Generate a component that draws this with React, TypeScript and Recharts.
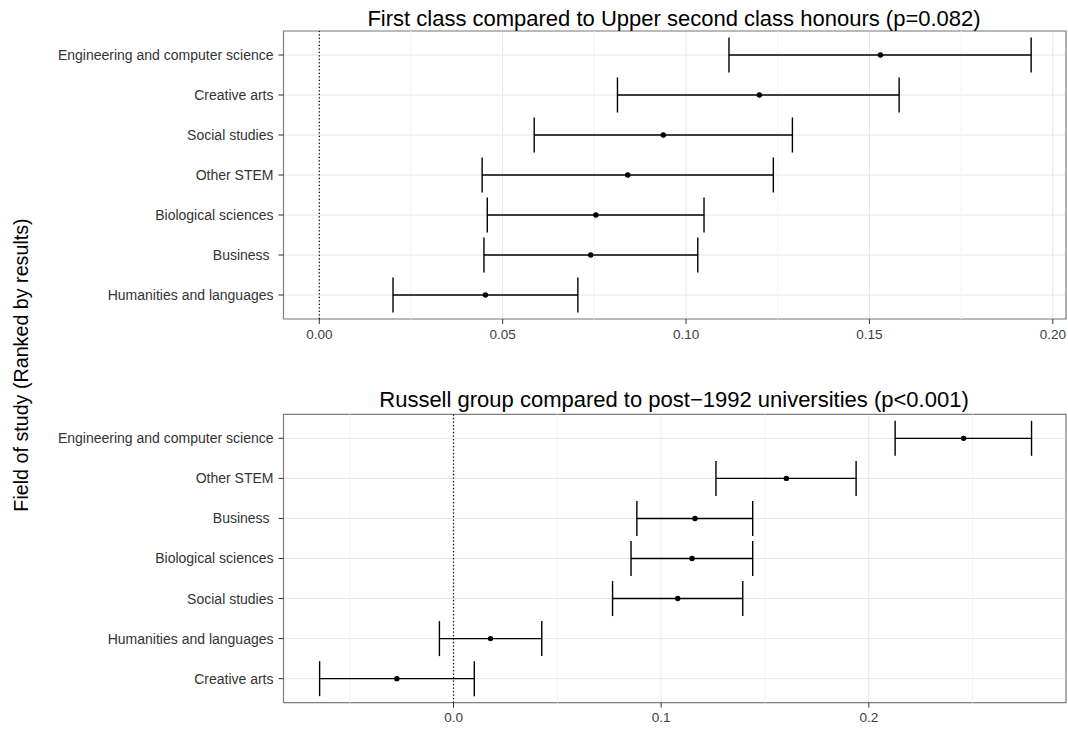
import React from 'react';
import {
  ScatterChart,
  Scatter,
  XAxis,
  YAxis,
  CartesianGrid,
  ErrorBar,
  ReferenceLine,
  ReferenceArea,
} from 'recharts';

// Panel 1: First class vs Upper second class honours
const fieldsTop = [
  'Engineering and computer science',
  'Creative arts',
  'Social studies',
  'Other STEM',
  'Biological sciences',
  'Business\u00a0',
  'Humanities and languages',
];
const estTop = [0.153, 0.12, 0.0938, 0.0841, 0.0754, 0.074, 0.0453];
const lowTop = [0.1117, 0.0813, 0.0586, 0.0444, 0.0458, 0.0449, 0.0201];
const highTop = [0.1941, 0.1581, 0.129, 0.1238, 0.1049, 0.1032, 0.0705];
const ticksTop = [0, 0.05, 0.1, 0.15, 0.2];
const minorTop = [0.025, 0.075, 0.125, 0.175];
const domainTop: [number, number] = [-0.00976, 0.2036];

// Panel 2: Russell group vs post-1992 universities
const fieldsBottom = [
  'Engineering and computer science',
  'Other STEM',
  'Business\u00a0',
  'Biological sciences',
  'Social studies',
  'Humanities and languages',
  'Creative arts',
];
const estBottom = [0.2457, 0.1603, 0.1163, 0.1149, 0.108, 0.0178, -0.0273];
const lowBottom = [0.2127, 0.1264, 0.0883, 0.0855, 0.0766, -0.0068, -0.0645];
const highBottom = [0.2784, 0.1939, 0.1441, 0.1441, 0.1393, 0.0425, 0.01];
const ticksBottom = [0, 0.1, 0.2];
const minorBottom = [-0.05, 0.05, 0.15, 0.25];
const domainBottom: [number, number] = [-0.0819, 0.295];

const titleTop = 'First class compared to Upper second class honours (p=0.082)';
const titleBottom = 'Russell group compared to post\u22121992 universities (p<0.001)';
const yTitle = 'Field of study (Ranked by results)';

const FONT = '"Liberation Sans", Arial, Helvetica, sans-serif';
const positions = [0, 1, 2, 3, 4, 5, 6];

type Row = { pos: number; est: number; lo: number; hi: number };

const buildRows = (est: number[], lo: number[], hi: number[]): Row[] =>
  est.map((e, i) => ({ pos: i, est: e, lo: lo[i], hi: hi[i] }));

const Dot = (props: any) => (
  <circle cx={props.cx} cy={props.cy} r={2.7} fill="#000" />
);

type PanelProps = {
  rows: Row[];
  labels: string[];
  ticks: number[];
  minor: number[];
  domain: [number, number];
  digits: number;
  height: number;
  top: number;
  marginTop: number;
  axisHeight: number;
  marginBottom: number;
};

const Panel = ({
  rows,
  labels,
  ticks,
  minor,
  domain,
  digits,
  height,
  top,
  marginTop,
  axisHeight,
  marginBottom,
}: PanelProps) => (
  <div style={{ position: 'absolute', left: 0, top }}>
    <ScatterChart
      width={1068}
      height={height}
      margin={{ top: marginTop, right: 2, bottom: marginBottom, left: 0 }}
    >
      {minor.map((m) => (
        <ReferenceLine key={m} x={m} stroke="#f3f3f3" strokeWidth={1} />
      ))}
      <CartesianGrid stroke="#e6e6e6" strokeWidth={1} />
      <XAxis
        type="number"
        dataKey="est"
        domain={domain}
        ticks={ticks}
        allowDataOverflow
        height={axisHeight}
        axisLine={false}
        tickSize={5}
        tickMargin={5}
        tickLine={{ stroke: '#333333' }}
        tick={{ fill: '#404040', fontSize: 13.5, fontFamily: FONT }}
        tickFormatter={(v: number) => v.toFixed(digits)}
      />
      <YAxis
        type="number"
        dataKey="pos"
        domain={[-0.6, 6.6]}
        ticks={positions}
        reversed
        allowDataOverflow
        width={283.5}
        axisLine={false}
        tickSize={5}
        tickMargin={5}
        tickLine={{ stroke: '#333333' }}
        tick={{ fill: '#333333', fontSize: 14, fontFamily: FONT }}
        tickFormatter={(v: number) => labels[v]}
        interval={0}
      />
      <ReferenceLine
        x={0}
        stroke="#111"
        strokeWidth={1.3}
        strokeDasharray="1.3 2.2"
      />
      <ReferenceArea
        x1={domain[0]}
        x2={domain[1]}
        y1={-0.6}
        y2={6.6}
        fill="none"
        fillOpacity={0}
        stroke="#808080"
        strokeWidth={1.2}
        ifOverflow="visible"
      />
      <Scatter data={rows} shape={Dot} isAnimationActive={false}>
        <ErrorBar
          dataKey={(d: Row) => [d.est - d.lo, d.hi - d.est]}
          direction="x"
          width={17.5}
          stroke="#000"
          strokeWidth={1.4}
          isAnimationActive={false}
        />
      </Scatter>
    </ScatterChart>
  </div>
);

export default function App() {
  const rowsTop = buildRows(estTop, lowTop, highTop);
  const rowsBottom = buildRows(estBottom, lowBottom, highBottom);
  return (
    <div
      style={{
        position: 'absolute',
        left: 0,
        top: 0,
        width: 1068,
        height: 729,
        background: '#fff',
        overflow: 'hidden',
      }}
    >
      <Panel
        rows={rowsTop}
        labels={fieldsTop}
        ticks={ticksTop}
        minor={minorTop}
        domain={domainTop}
        digits={2}
        height={360}
        top={0}
        marginTop={31}
        axisHeight={30}
        marginBottom={11}
      />
      <Panel
        rows={rowsBottom}
        labels={fieldsBottom}
        ticks={ticksBottom}
        minor={minorBottom}
        domain={domainBottom}
        digits={1}
        height={369}
        top={360}
        marginTop={54.3}
        axisHeight={26.3}
        marginBottom={0}
      />
      <svg
        width={1068}
        height={729}
        style={{ position: 'absolute', left: 0, top: 0, pointerEvents: 'none' }}
      >
        <text
          x={674}
          y={25.5}
          textAnchor="middle"
          fontSize={22}
          fontFamily={FONT}
          fill="#000"
        >
          {titleTop}
        </text>
        <text
          x={674}
          y={407}
          textAnchor="middle"
          fontSize={22}
          fontFamily={FONT}
          fill="#000"
        >
          {titleBottom}
        </text>
        <text
          transform="translate(27.6,365) rotate(-90)"
          textAnchor="middle"
          fontSize={19.7}
          fontFamily={FONT}
          fill="#000"
        >
          {yTitle}
        </text>
      </svg>
    </div>
  );
}
